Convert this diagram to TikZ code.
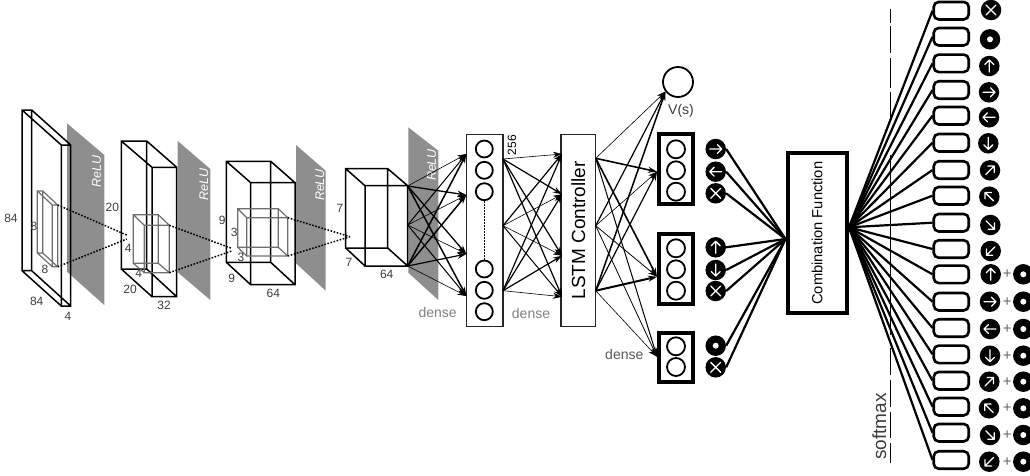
\documentclass[tikz,border=0pt]{standalone}
\usepackage{fontspec}
\setmainfont{Liberation Sans}
\usetikzlibrary{arrows.meta}
\definecolor{planegray}{HTML}{8E8E8E}
\definecolor{innergray}{HTML}{6E6E6E}
\definecolor{labelgray}{HTML}{3C3C3C}
\definecolor{densegray}{HTML}{808080}
\tikzset{
  x=1pt,y=-1pt,
  plane/.style={fill=planegray,draw=none},
  relutext/.style={text=white,rotate=90,font=\fontsize{12.5}{13}\selectfont\itshape,inner sep=0},
  dimlabel/.style={text=labelgray,font=\fontsize{12}{13}\selectfont,inner sep=0},
  denselabel/.style={text=densegray,font=\fontsize{14}{15}\selectfont,inner sep=0},
  cubeline/.style={draw=black,line width=1.5pt,line join=miter},
  innerline/.style={draw=innergray,line width=1.2pt},
  dotline/.style={draw=black,line width=1.5pt,dash pattern=on 1.6pt off 1.6pt},
  unitcirc/.style={circle,draw=black,line width=1.8pt,fill=white,minimum size=17pt,inner sep=0},
  layerbox/.style={rectangle,draw=black!85,line width=1.2pt,fill=white,inner sep=0},
  policybox/.style={rectangle,draw=black,line width=4pt,fill=white,inner sep=0},
  outbox/.style={rectangle,rounded corners=5pt,draw=black,line width=2.6pt,fill=white,inner sep=0,minimum width=35pt,minimum height=17.5pt},
  icondisc/.style={circle,fill=black,draw=none,minimum size=20.5pt,inner sep=0},
  iconline/.style={draw=white,line width=1.3pt,line cap=round,line join=round},
  fan/.style={draw=black,-{Stealth[length=9pt,width=6pt]}},
  thickwire/.style={draw=black,line width=2.2pt},
  plusmark/.style={text=black!60,font=\fontsize{15}{15}\selectfont,inner sep=0},
}
% x1 x2 (back) y1 y2 (back) ; x3 x4 (front) y3 y4 (front)
\def\cubo#1#2#3#4#5#6#7#8#9{%
  \draw[#9] (#1,#3) rectangle (#2,#4) (#5,#7) rectangle (#6,#8)
    (#1,#3)--(#5,#7) (#2,#3)--(#6,#7) (#1,#4)--(#5,#8) (#2,#4)--(#6,#8);}
\def\iconarrow#1#2#3#4{%
  \node[icondisc] (#1) at (#2,#3) {};
  \begin{scope}[shift={(#2,#3)},rotate=#4]
    \draw[iconline] (-6,0)--(6,0) (1.5,-4.5)--(6,0)--(1.5,4.5);
  \end{scope}}
\def\iconx#1#2#3{%
  \node[icondisc] (#1) at (#2,#3) {};
  \begin{scope}[shift={(#2,#3)}]
    \draw[iconline] (-5,-5)--(5,5) (-5,5)--(5,-5);
  \end{scope}}
\def\icondot#1#2#3{%
  \node[icondisc] (#1) at (#2,#3) {};
  \fill[white] (#2,#3) circle (3pt);}
\begin{document}
\begin{tikzpicture}
\useasboundingbox (0,0) rectangle (1030,475);
% ReLU planes
\fill[plane] (67,123.3)--(104.3,155)--(104.3,305)--(67,271.7)--cycle;
\fill[plane] (177.7,141)--(210.3,169)--(210.3,300)--(177.7,272.3)--cycle;
\fill[plane] (296,145)--(325.7,170.7)--(325.7,290.7)--(296,263.3)--cycle;
\fill[plane] (408.3,127.3)--(438.3,150.7)--(438.3,300)--(408.3,272.7)--cycle;
\node[relutext] (r1) at (96.7,171.7) {ReLU};
\node[relutext] (r2) at (204,184.3) {ReLU};
\node[relutext] (r3) at (320,185) {ReLU};
\node[relutext] (r4) at (431.7,165) {ReLU};
% cuboids
\cubo{22}{31.7}{110}{270.7}{61.3}{70.7}{145}{306}{cubeline}
\cubo{37.3}{42.7}{191}{253}{52.3}{57.7}{205}{266.7}{innerline}
\cubo{121.3}{146.7}{141}{269}{152}{176.7}{167.3}{296.7}{cubeline}
\cubo{133.3}{158.3}{214.7}{263.3}{144.3}{169.3}{225.3}{272.7}{innerline}
\cubo{226.3}{270.7}{161.3}{262.3}{250.7}{295}{182.7}{284.7}{cubeline}
\cubo{237.7}{278.3}{208.7}{247.3}{246.7}{287.7}{217.7}{256}{innerline}
\cubo{345.7}{387.7}{168.7}{248}{365}{407.7}{185.7}{266}{cubeline}
% dotted projections
\coordinate (pa1) at (57.7,205);   \coordinate (pa2) at (57.7,266.7);
\coordinate (qa1) at (126.7,235);  \coordinate (qa2) at (126.7,239);
\coordinate (pb1) at (169.3,225.3);\coordinate (pb2) at (169.3,272.7);
\coordinate (qb1) at (231.7,248.3);\coordinate (qb2) at (231.7,251);
\coordinate (pc1) at (287.7,217.7);\coordinate (pc2) at (287.7,256);
\coordinate (qc) at (350,236.7);
\draw[dotline] (pa1)--(qa1) (pa2)--(qa2) (pb1)--(qb1) (pb2)--(qb2) (pc1)--(qc) (pc2)--(qc);
% dimension labels
\foreach \n/\x/\y/\t in {a/11/218/84,b/34/226/8,c/45/269.3/8,d/36.7/301.7/84,e/68/316.7/4,
  f/112.3/207.3/20,g/128.3/248.3/4,h/138.7/273.3/4,i/130/289.3/20,j/164/305.7/32,
  k/222.3/220/9,l/234.3/232.3/3,m/241/257.7/3,n/231.7/278.3/9,o/273.3/293.3/64,
  p/340/208.3/7,q/349/262/7,r/386.7/274.7/64}
  \node[dimlabel] (dim\n) at (\x,\y) {\t};
\node[denselabel] (dense1) at (437.7,312.3) {dense};
\node[denselabel] (dense2) at (531,313.3) {dense};
\node[denselabel,text=black!65] (dense3) at (624.3,354) {dense};
% layer boxes
\node[layerbox,minimum width=36.7pt,minimum height=192pt] (dA) at (484.65,230.3) {};
\node[layerbox,minimum width=34.7pt,minimum height=192pt,font=\fontsize{19}{20}\selectfont] (lstm) at (578.35,230.3) {\rotatebox{90}{LSTM Controller}};
\foreach \n/\y in {1/149,2/170.3,3/191.7,4/269,5/290.3,6/311.7}
  \node[unitcirc] (u\n) at (484.3,\y) {};
\draw[black,line width=1.2pt,dash pattern=on 2pt off 1pt] (u3)--(u4);
\node[dimlabel,rotate=90,text=black] (n256) at (512,145) {256};
% fan coordinates
\foreach \n/\y in {1/186,2/225,3/266} \coordinate (s\n) at (407.7,\y);
\foreach \n/\y in {1/154,2/195,3/254,4/296} \coordinate (t\n) at (466.3,\y);
\foreach \n/\y in {1/159,2/225.7,3/290.7} \coordinate (v\n) at (503,\y);
\foreach \n/\y in {1/154,2/194.3,3/255.7,4/296.7} \coordinate (w\n) at (562,\y);
\foreach \n/\y in {1/158.3,2/225.7,3/290.7} \coordinate (x\n) at (595.7,\y);
\coordinate (yV) at (665.5,91.5);
\coordinate (y1) at (657,171.7);
\coordinate (y2) at (657,276.7);
\coordinate (y3) at (657,356.7);
\foreach \a/\b/\w in {s1/t1/0.6,s1/t2/1.3,s1/t3/1.3,s1/t4/1.5,
  s2/t1/1.0,s2/t2/0.6,s2/t3/0.6,s2/t4/1.0,
  s3/t1/1.5,s3/t2/1.5,s3/t3/1.2,s3/t4/0.6,
  v1/w1/0.6,v1/w2/1.2,v1/w3/1.2,v1/w4/1.2,
  v2/w1/1.2,v2/w2/0.6,v2/w3/0.6,v2/w4/1.0,
  v3/w1/1.2,v3/w2/1.2,v3/w3/1.2,v3/w4/0.6,
  x1/yV/0.6,x1/y1/1.6,x1/y2/1.6,x1/y3/1.0,
  x2/yV/1.2,x2/y1/0.6,x2/y2/0.8,x2/y3/0.8,
  x3/yV/1.5,x3/y1/1.2,x3/y2/2.0,x3/y3/0.6}
  \draw[fan,line width=\w pt] (\a)--(\b);
% value
\node[circle,draw=black,line width=1.8pt,fill=white,minimum size=30pt,inner sep=0] (vcirc) at (678,82) {};
\node[font=\fontsize{14}{15}\selectfont,text=labelgray,inner sep=0] (vlabel) at (681,110.7) {V(s)};
% policy boxes
\node[policybox,minimum width=34.5pt,minimum height=69.7pt] (p1) at (675.9,169.2) {};
\node[policybox,minimum width=34.5pt,minimum height=70pt] (p2) at (675.9,269) {};
\node[policybox,minimum width=34.5pt,minimum height=49.3pt] (p3) at (675.9,357.4) {};
\foreach \n/\y in {a/149.3,b/170.3,c/191.7,d/248.3,e/269.3,f/290.7,g/346.3,h/367}
  \node[unitcirc,minimum size=18pt] (pu\n) at (676,\y) {};
% combination
\node[policybox,minimum width=59pt,minimum height=160.5pt,font=\fontsize{14.7}{15}\selectfont] (comb) at (817,233.2) {\rotatebox{90}{Combination Function}};
\coordinate (cL) at (785.5,239);
\coordinate (cR) at (849,227.3);
% action icons middle
\iconarrow{ia}{715.7}{149}{0}
\iconarrow{ib}{715.7}{171.7}{180}
\iconx{ic}{715.7}{193.3}
\iconarrow{id}{715.7}{247.3}{90}
\iconarrow{ie}{715.7}{270}{270}
\iconx{if}{715.7}{291}
\icondot{ig}{715.7}{345.7}
\iconx{ih}{715.7}{367.3}
\foreach \n in {ia,ib,ic,id,ie,if,ig,ih}
  \draw[thickwire] (\n.east)--(cL);
% softmax guide
\coordinate (softtop) at (890,9);
\draw[black,line width=0.9pt] (890,9)--(890,23) (890,26)--(890,53) (890,58)--(890,88) (890,92)--(890,118)
  (890,155)--(890,335) (890,348)--(890,375) (890,380)--(890,407) (890,412)--(890,438) (890,443)--(890,463);
\node[rotate=90,font=\fontsize{19}{20}\selectfont,text=labelgray,inner sep=0] (softmax) at (879.3,426.7) {softmax};
% output column
\foreach \n/\y in {1/10.7,2/36.7,3/63.3,4/90,5/115.7,6/142.7,7/170,8/195.7,9/222.7,10/249,
  11/274.3,12/301.7,13/328,14/354.3,15/380.7,16/406.7,17/432.7,18/460}{
  \draw[thickwire] (cR)--(932.5,\y);
  \node[outbox] (o\n) at (951.2,\y) {};
}
% output icons
\iconx{j1}{991}{10}
\icondot{j2}{990}{39.3}
\iconarrow{j3}{989.3}{66}{90}
\iconarrow{j4}{989}{92.3}{0}
\iconarrow{j5}{989}{117.3}{180}
\iconarrow{j6}{988.3}{143.3}{270}
\iconarrow{j7}{990}{170.3}{45}
\iconarrow{j8}{989.3}{196.7}{135}
\iconarrow{j9}{990.3}{225}{315}
\iconarrow{j10}{990.7}{251}{225}
\iconarrow{j11}{990.7}{274.3}{90}
\iconarrow{j12}{990}{301.7}{0}
\iconarrow{j13}{990}{329}{180}
\iconarrow{j14}{990}{355.7}{270}
\iconarrow{j15}{989.3}{381.7}{45}
\iconarrow{j16}{989}{408.3}{135}
\iconarrow{j17}{990}{435}{315}
\iconarrow{j18}{989.3}{461.7}{225}
\foreach \n/\y in {11/274.3,12/301.7,13/329,14/355.7,15/381.7,16/408.3,17/435,18/461.7}{
  \node[plusmark] (plus\n) at (1007.3,\y) {+};
  \icondot{k\n}{1023.3}{\y}
}
\end{tikzpicture}
\end{document}
